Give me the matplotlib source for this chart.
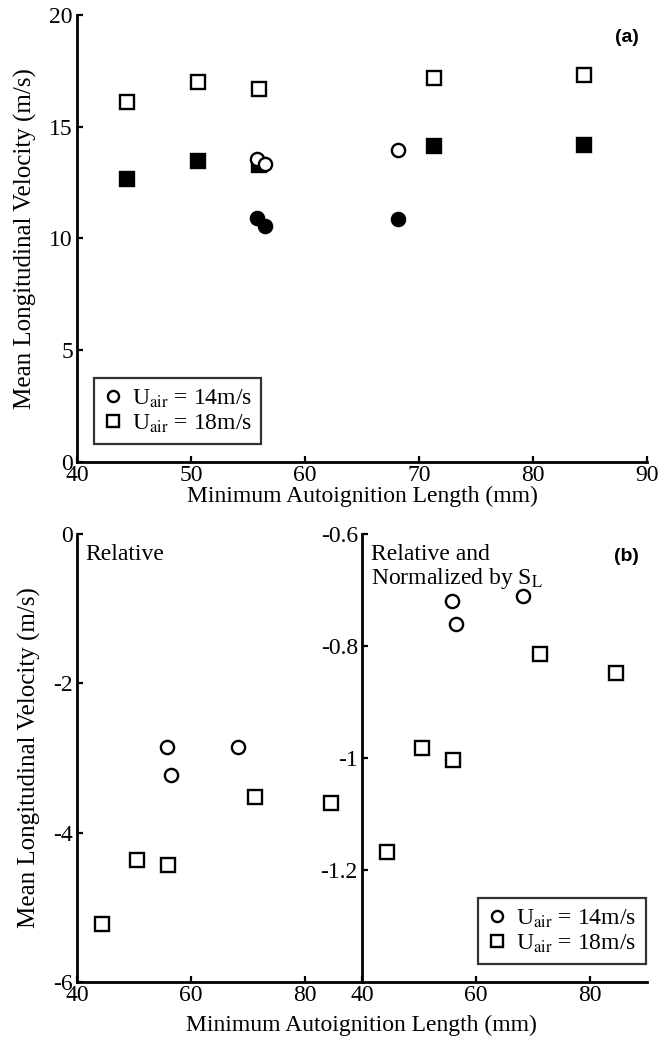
import matplotlib
matplotlib.use("Agg")
import matplotlib.pyplot as plt
from matplotlib.lines import Line2D

plt.rcParams["font.family"] = ["Liberation Serif", "DejaVu Serif"]
plt.rcParams["mathtext.fontset"] = "stix"
plt.rcParams["axes.unicode_minus"] = False

# ---- data ----
# (a) absolute mean longitudinal velocity
len14 = [55.8, 56.5, 68.2]
u14_open = [13.55, 13.35, 13.95]
u14_fill = [10.9, 10.56, 10.85]

len18 = [44.4, 50.6, 56.0, 71.3, 84.5]
u18_open = [16.1, 17.0, 16.7, 17.2, 17.3]
u18_fill = [12.66, 13.47, 13.3, 14.14, 14.2]

# (b) relative velocity
rel14 = [-2.85, -3.23, -2.85]
rel18 = [-5.23, -4.37, -4.43, -3.52, -3.6]

# (b) relative, normalized by S_L
norm14 = [-0.72, -0.761, -0.711]
norm18 = [-1.168, -0.982, -1.004, -0.814, -0.848]

lab14 = r"U$_\mathrm{air}$ = 14m/s"
lab18 = r"U$_\mathrm{air}$ = 18m/s"

fs = 17
ms = 9.5
mew = 1.7

fig = plt.figure(figsize=(6.6, 10.4), dpi=100)

def style(ax):
    ax.spines["right"].set_color("none")
    ax.spines["top"].set_color("none")
    ax.spines["left"].set_linewidth(2)
    ax.spines["bottom"].set_linewidth(2)
    ax.tick_params(direction="in", length=4.5, width=1.6, labelsize=fs, pad=3)
    ax.tick_params(axis="x", pad=2)
    ax.patch.set_alpha(0)

# ---- panel (a) ----
ax1 = fig.add_axes([0.1167, 0.5558, 0.8636, 0.4298])
style(ax1)
ax1.plot(len18, u18_open, "s", ms=ms, mfc="white", mec="black", mew=mew)
ax1.plot(len18, u18_fill, "s", ms=ms, mfc="black", mec="black", mew=mew)
ax1.plot(len14, u14_open, "o", ms=ms, mfc="white", mec="black", mew=mew)
ax1.plot(len14, u14_fill, "o", ms=ms, mfc="black", mec="black", mew=mew)
ax1.set_xlim(40, 90)
ax1.set_ylim(0, 20)
ax1.set_xticks([40, 50, 60, 70, 80, 90])
ax1.set_yticks([0, 5, 10, 15, 20])
ax1.set_xlabel("Minimum Autoignition Length (mm)", fontsize=fs, labelpad=0)
ax1.set_ylabel("Mean Longitudinal Velocity (m/s)", fontsize=18, labelpad=9)
ax1.text(0.985, 0.95, "(a)", transform=ax1.transAxes, ha="right", va="center",
         fontsize=14, fontweight="bold", family="Liberation Sans")

handles = [Line2D([], [], ls="none", marker="o", ms=8, mfc="white", mec="black", mew=mew),
           Line2D([], [], ls="none", marker="s", ms=8, mfc="white", mec="black", mew=mew)]
leg1 = ax1.legend(handles, [lab14, lab18], loc="lower left", bbox_to_anchor=(0.03, 0.04),
                  fontsize=fs, frameon=True, fancybox=False, edgecolor="black",
                  handlelength=0.8, handletextpad=0.4, borderpad=0.4, labelspacing=0.1,
                  borderaxespad=0)
leg1.get_frame().set_linewidth(1.6)

# ---- panel (b), left: relative ----
ax2 = fig.add_axes([0.1167, 0.0558, 0.4318, 0.4308])
style(ax2)
ax2.plot(len14, rel14, "o", ms=ms, mfc="white", mec="black", mew=mew)
ax2.plot(len18, rel18, "s", ms=ms, mfc="white", mec="black", mew=mew)
ax2.set_xlim(40, 90)
ax2.set_ylim(-6, 0)
ax2.set_xticks([40, 60, 80])
ax2.set_yticks([-6, -4, -2, 0])
ax2.set_ylabel("Mean Longitudinal Velocity (m/s)", fontsize=18, labelpad=9)
ax2.text(0.03, 0.955, "Relative", transform=ax2.transAxes, ha="left", va="center", fontsize=fs)

# ---- panel (b), right: relative and normalized ----
ax3 = fig.add_axes([0.5485, 0.0558, 0.4318, 0.4308])
style(ax3)
ax3.plot(len14, norm14, "o", ms=ms, mfc="white", mec="black", mew=mew)
ax3.plot(len18, norm18, "s", ms=ms, mfc="white", mec="black", mew=mew)
ax3.set_xlim(40, 90)
ax3.set_ylim(-1.4, -0.6)
ax3.set_xticks([40, 60, 80])
ax3.set_yticks([-1.2, -1.0, -0.8, -0.6])
ax3.set_yticklabels(["-1.2", "-1", "-0.8", "-0.6"])
ax3.text(0.03, 0.955, "Relative and", transform=ax3.transAxes, ha="left", va="center", fontsize=fs)
ax3.text(0.03, 0.90, r"Normalized by S$_\mathrm{L}$", transform=ax3.transAxes,
         ha="left", va="center", fontsize=fs)
ax3.text(0.97, 0.95, "(b)", transform=ax3.transAxes, ha="right", va="center",
         fontsize=14, fontweight="bold", family="Liberation Sans")
leg2 = ax3.legend(handles, [lab14, lab18], loc="lower right", bbox_to_anchor=(0.995, 0.04),
                  fontsize=fs, frameon=True, fancybox=False, edgecolor="black",
                  handlelength=0.8, handletextpad=0.4, borderpad=0.4, labelspacing=0.1,
                  borderaxespad=0)
leg2.get_frame().set_linewidth(1.6)

fig.text(0.548, 0.014, "Minimum Autoignition Length (mm)", ha="center", va="center", fontsize=fs)

fig.savefig("out.png", dpi=100)
